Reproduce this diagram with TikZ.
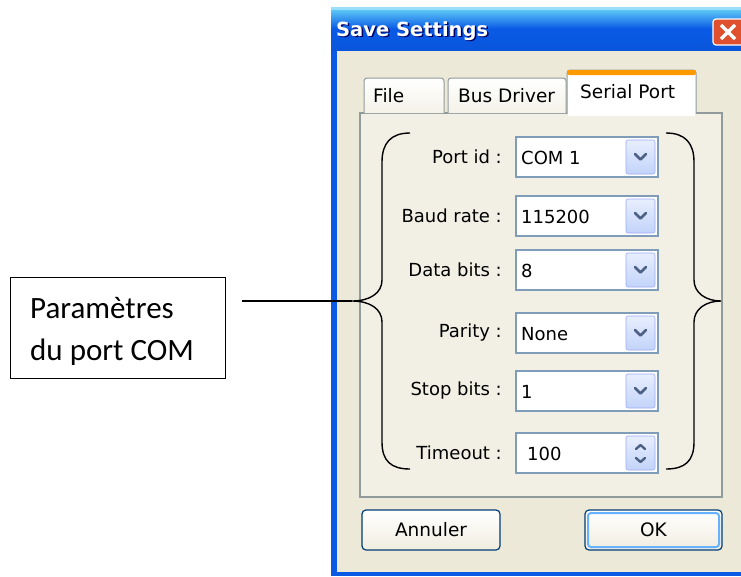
\documentclass[tikz,border=0pt]{standalone}
\usepackage{fontspec}
\setmainfont{DejaVu Sans}
\newfontfamily\calib{Carlito}
\usetikzlibrary{shadings}
\definecolor{xpbeige}{HTML}{ECE9D8}
\definecolor{xpblue}{HTML}{0A5AE6}
\definecolor{tabborder}{HTML}{919B9C}
\definecolor{combobord}{HTML}{7F9DB9}
\definecolor{dropfill}{HTML}{C3D4FA}
\definecolor{droparrow}{HTML}{4D6185}
\definecolor{btnborder}{HTML}{003C74}
\definecolor{closered}{HTML}{E0502F}
\tikzset{
  lbl/.style={anchor=east, font=\fontsize{18}{20}\selectfont, text=black, inner sep=0pt},
  val/.style={anchor=west, font=\fontsize{18}{20}\selectfont, text=black, inner sep=0pt},
  combo/.style={draw=combobord, fill=white, line width=1.2pt},
  dropbtn/.style={draw=dropfill!80!blue, rounded corners=2pt, top color=dropfill!40!white, bottom color=dropfill, line width=0.6pt},
  chev/.style={draw=droparrow, line width=2.8pt, line cap=round, line join=round},
  tabbox/.style={draw=tabborder, line width=1pt, top color=white, bottom color=xpbeige!60!white, rounded corners=3pt},
  tabtxt/.style={font=\fontsize{18.5}{20}\selectfont, text=black, inner sep=0pt},
  xpbutton/.style={draw=btnborder, line width=1.2pt, rounded corners=4pt, top color=white, bottom color=xpbeige!80!white},
  bracestyle/.style={draw=black, line width=1.4pt},
}
\begin{document}
\begin{tikzpicture}[x=1pt,y=-1pt]
\useasboundingbox (0,0) rectangle (741,576);
\fill[white] (0,0) rectangle (741,576);
% window
\fill[xpblue] (331,7) rectangle (741,576);
\fill[xpbeige] (337,50) rectangle (741,572);
% title bar
\shade[top color=xpblue!40!cyan!60!white, bottom color=xpblue!95!black, middle color=xpblue] (331,7) rectangle (741,50);
\fill[xpblue!50!cyan!40!white] (331,7) rectangle (741,10);
\node[anchor=west, font=\fontsize{19.5}{22}\bfseries, text=black!60!blue, inner sep=0pt] at (337.5,32.5) {Save Settings};
\node[anchor=west, font=\fontsize{19.5}{22}\bfseries, text=white, inner sep=0pt] (title) at (336,31) {Save Settings};
% close button
\draw[white, line width=1.2pt, rounded corners=3pt, fill=closered] (713,19) rectangle (745,45);
\draw[white, line width=3.5pt] (721,25) -- (735,39) (735,25) -- (721,39);

% tab panel
\draw[tabborder, line width=1.2pt, fill=xpbeige!70!white] (360,113) rectangle (722,497);
% tabs
\draw[tabbox] (364,113) -- (364,78) -- (444,78) -- (444,113);
\node[tabtxt, anchor=west] (tfile) at (373,96) {File};
\draw[tabbox] (448,113) -- (448,78) -- (566,78) -- (566,113);
\node[tabtxt, anchor=west] (tbus) at (458,96) {Bus Driver};
\draw[draw=tabborder, line width=1pt, fill=white, rounded corners=3pt] (567,114) -- (567,70) -- (696,70) -- (696,114);
\fill[white] (568,112) rectangle (695,116);
\fill[orange!80!yellow, rounded corners=2pt] (567,70) rectangle (696,75);
\node[tabtxt, anchor=west] (tserial) at (580,92) {Serial Port};

% rows
\foreach \yy/\name/\lab/\v in {157/port/Port id :/COM 1, 216/baud/Baud rate :/115200, 270/data/Data bits :/8, 333/par/Parity :/None, 391/stop/Stop bits :/1}{
  \draw[combo] (516,\yy-20) rectangle (658,\yy+20);
  \node[lbl] (l\name) at (502,\yy) {\lab};
  \node[val] (v\name) at (521,\yy+1) {\v};
  \draw[dropbtn] (626,\yy-17) rectangle (655,\yy+17);
  \draw[chev] (635,\yy-3) -- (640.5,\yy+2.5) -- (646,\yy-3);
}
% timeout (spin)
\draw[combo] (516,433) rectangle (658,473);
\node[lbl] (ltime) at (502,453) {Timeout :};
\node[val] (vtime) at (527,454) {100};
\draw[dropbtn] (626,436) rectangle (655,470);
\draw[chev, line width=2.4pt] (636,449) -- (640.5,445) -- (645,449);
\draw[chev, line width=2.4pt] (636,458) -- (640.5,462) -- (645,458);

% braces
\coordinate (ltip) at (352,301);
\coordinate (rtip) at (721,301);
\draw[bracestyle] (410,133) .. controls (391,133) and (382,143) .. (382,162) -- (382,280)
  .. controls (382,293) and (370,301) .. (ltip)
  .. controls (370,301) and (382,309) .. (382,322) -- (382,442)
  .. controls (382,461) and (391,469) .. (410,469);
\draw[bracestyle] (666,133) .. controls (685,133) and (694,143) .. (694,162) -- (694,280)
  .. controls (694,293) and (706,301) .. (rtip)
  .. controls (706,301) and (694,309) .. (694,322) -- (694,442)
  .. controls (694,461) and (685,469) .. (666,469);

% buttons
\draw[xpbutton] (362,510) rectangle (500,550);
\node[tabtxt] (annuler) at (431,530) {Annuler};
\draw[xpbutton] (585,510) rectangle (722,550);
\draw[blue!50!cyan!60!white, line width=2pt, rounded corners=3pt] (588,513) rectangle (719,547);
\node[tabtxt] (ok) at (653.5,530) {OK};

% callout box
\node[draw=black, line width=1.2pt, fill=white, minimum width=215pt, minimum height=101pt, anchor=north west, inner sep=0pt] (box) at (10,277) {};
\node[anchor=north west, align=left, font=\calib\fontsize{31}{42}\selectfont, inner sep=0pt] (boxtext) at (30,297) {Paramètres\\du port COM};
\draw[black, line width=1.2pt, shorten <=16pt] (box.east |- ltip) -- (ltip);
\end{tikzpicture}
\end{document}
